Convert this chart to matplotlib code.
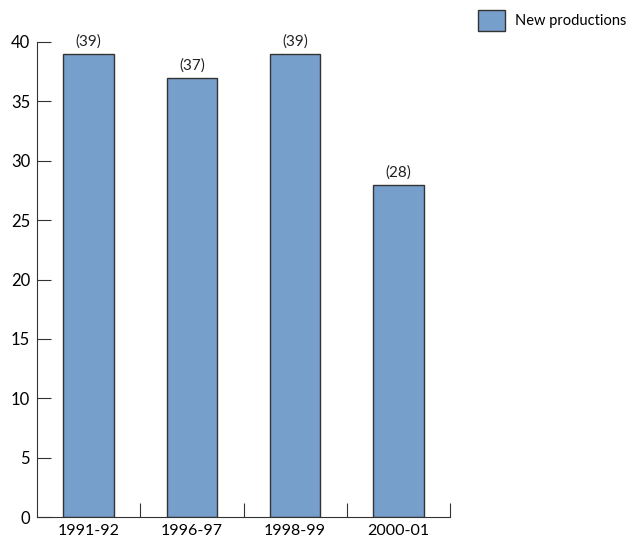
import matplotlib.pyplot as plt
from matplotlib.patches import Patch

seasons = ['1991-92', '1996-97', '1998-99', '2000-01']
new_productions = [39, 37, 39, 28]

plt.rcParams['font.family'] = ['Lato', 'DejaVu Sans']

fig = plt.figure(figsize=(6.32, 5.42), dpi=100)
ax = fig.add_axes([37 / 632, 1 - 517 / 542, 413 / 632, 475 / 542])

x = range(len(seasons))
bars = ax.bar(x, new_productions, width=0.49, color='#779fcc',
              edgecolor='#333333', linewidth=1)

for b, v in zip(bars, new_productions):
    ax.text(b.get_x() + b.get_width() / 2, v + 0.4, '(%d)' % v,
            ha='center', va='bottom', fontsize=11, color='#222222')

ax.set_xlim(-0.5, len(seasons) - 0.5)
ax.set_ylim(0, 40)
ax.set_yticks(range(0, 41, 5))

# category ticks sit between the bars, pointing up
ax.set_xticks([i + 0.5 for i in range(len(seasons))])
ax.set_xticklabels([])
ax.set_xticks(list(x), minor=True)
ax.set_xticklabels(seasons, minor=True, fontsize=11.5)
ax.tick_params(axis='x', which='minor', length=0, pad=5)
ax.tick_params(axis='x', which='major', direction='in', length=10,
               color='#333333')
ax.tick_params(axis='y', direction='in', length=10, color='#333333',
               labelsize=12, pad=5)

for side in ['top', 'right']:
    ax.spines[side].set_visible(False)
for side in ['left', 'bottom']:
    ax.spines[side].set_color('#333333')

handle = Patch(facecolor='#779fcc', edgecolor='#333333', linewidth=1)
fig.legend([handle], ['New productions'], loc='upper left',
           bbox_to_anchor=(468 / 632, 1.0), frameon=False, fontsize=10.5,
           handlelength=1.85, handleheight=1.85, handletextpad=0.7,
           borderaxespad=0.3)

plt.savefig('out.png', dpi=100)
